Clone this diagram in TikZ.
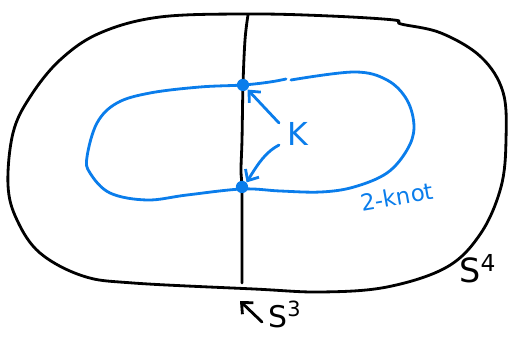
\documentclass[tikz,border=0pt]{standalone}
\usepackage{fontspec}
\setmainfont{DejaVu Sans}
\usetikzlibrary{arrows.meta}
\definecolor{knotblue}{RGB}{10,125,235}
\begin{document}
\begin{tikzpicture}[x=0.02cm,y=-0.02cm,
  blackline/.style={line width=1.6pt,line cap=round,line join=round},
  blueline/.style={knotblue,line width=1.6pt,line cap=round,line join=round},
  bluearrow/.style={blueline,-{Straight Barb[length=5pt,width=9pt]}},
  blackarrow/.style={blackline,-{Straight Barb[length=5pt,width=9pt]}},
  lbl/.style={inner sep=0pt},
  dotstyle/.style={circle,fill=knotblue,inner sep=0pt,minimum size=7pt}]
\useasboundingbox (0,0) rectangle (508,337);
% outer S^4
\draw[blackline] plot[smooth cycle,tension=0.6] coordinates {
  (250,14) (330,16) (394,20) (401,24) (441,33) (481,57) (503,92) (506,140)
  (501,187) (481,233) (447,267) (387,287) (321,292) (254,289) (133,283)
  (83,276) (40,253) (17,220) (8,185) (13,133) (30,97) (60,60) (100,33) (160,17)};
% S^3 line
\draw[blackline] plot[smooth,tension=0.6] coordinates {
  (248,15) (245,40) (243,85) (242,140) (241,170) (242,188) (242,230) (242,283)};
% 2-knot
\draw[blueline] plot[smooth,tension=0.6] coordinates {
  (291,80) (354,72) (387,80) (407,100) (414,127) (407,150) (387,173)
  (354,187) (321,192) (280,191) (242,189) (187,195) (147,200) (110,193)
  (90,173) (87,157) (97,123) (117,103) (150,93) (200,87) (243,85) (270,82) (286,79)};
\node[dotstyle] (d1) at (243,85) {};
\node[dotstyle] (d2) at (242,187) {};
% K
\node[lbl,knotblue,font=\fontsize{18}{18}\selectfont] (K) at (298,134) {K};
\coordinate (a1s) at (279,123);
\coordinate (a2s) at (279,145);
\draw[bluearrow] (a1s) -- (d1.south east);
\draw[bluearrow] (a2s) .. controls (266,152) and (259,162) .. (d2.north east);
\node[lbl,knotblue,font=\fontsize{13}{13}\selectfont,rotate=10] (kn) at (397,197) {2-knot};
% S^4
\node[lbl,font=\fontsize{19}{19}\selectfont,anchor=base west] (s4) at (459,283) {S\textsuperscript{4}};
% S^3
\node[lbl,font=\fontsize{17}{17}\selectfont,anchor=base west] (s3) at (268,328) {S\textsuperscript{3}};
\coordinate (a3s) at (262,322);
\draw[blackarrow] (a3s) -- (240,301);
\end{tikzpicture}
\end{document}
